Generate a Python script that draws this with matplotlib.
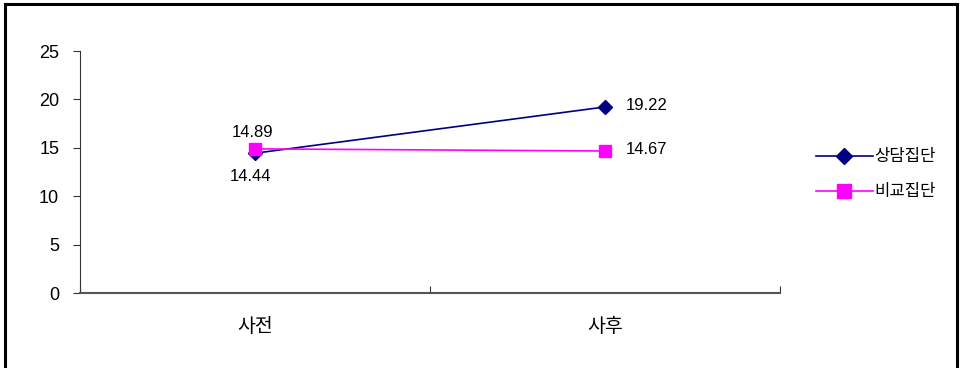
import matplotlib
matplotlib.use("Agg")
import matplotlib.pyplot as plt
from matplotlib.lines import Line2D

plt.rcParams['font.family'] = ['Liberation Sans', 'Noto Sans CJK KR']

categories = ['사전', '사후']
counsel = [14.44, 19.22]
compare = [14.89, 14.67]
series_names = ['상담집단', '비교집단']
yticks = [0, 5, 10, 15, 20, 25]

fig = plt.figure(figsize=(9.6, 3.68), dpi=100)
ax = fig.add_axes([80 / 960, 75 / 368, 700 / 960, 242 / 368])

x = list(range(len(categories)))
ax.plot(x, counsel, color='#000080', marker='D', markersize=7, lw=1.2,
        label=series_names[0])
ax.plot(x, compare, color='#FF00FF', marker='s', markersize=8, lw=1.2,
        label=series_names[1])

# value labels
lab = dict(textcoords='offset points', va='center', fontsize=12)
ax.annotate(f'{counsel[0]:.2f}', (x[0], counsel[0]), xytext=(-3, -17), ha='center', **lab)
ax.annotate(f'{compare[0]:.2f}', (x[0], compare[0]), xytext=(-2, 12), ha='center', **lab)
ax.annotate(f'{counsel[1]:.2f}', (x[1], counsel[1]), xytext=(15, 1), ha='left', **lab)
ax.annotate(f'{compare[1]:.2f}', (x[1], compare[1]), xytext=(15, 1), ha='left', **lab)

ax.set_xlim(-0.5, len(categories) - 0.5)
ax.set_ylim(0, 25)
ax.set_yticks(yticks)
ax.tick_params(axis='y', direction='out', length=5, labelsize=13, pad=10, color='#333333')

# category labels sit between the boundary ticks
ax.set_xticks([i - 0.5 for i in range(len(categories) + 1)])
ax.set_xticklabels([])
ax.tick_params(axis='x', length=5, direction='in', color='#333333')
ax.set_xticks(x, minor=True)
ax.set_xticklabels(categories, minor=True, fontsize=14)
ax.tick_params(axis='x', which='minor', length=0, pad=18)

for s in ['top', 'right']:
    ax.spines[s].set_visible(False)
ax.spines['left'].set_color('#333333')
ax.spines['bottom'].set_color('#555555')
ax.spines['bottom'].set_linewidth(1.5)

ax.legend(loc='center left', bbox_to_anchor=(1.03, 0.49), frameon=False,
          fontsize=12, handlelength=3.4, handletextpad=0.1, labelspacing=1.2,
          markerscale=1.2)

# outer frame
for xs, ys in [([5 / 960, 5 / 960], [0, 1 - 4 / 368]),
               ([5 / 960, 957 / 960], [1 - 4 / 368, 1 - 4 / 368]),
               ([957 / 960, 957 / 960], [0, 1 - 4 / 368])]:
    fig.add_artist(Line2D(xs, ys, color='black', lw=2.2, transform=fig.transFigure))

fig.savefig('out.png', dpi=100)
